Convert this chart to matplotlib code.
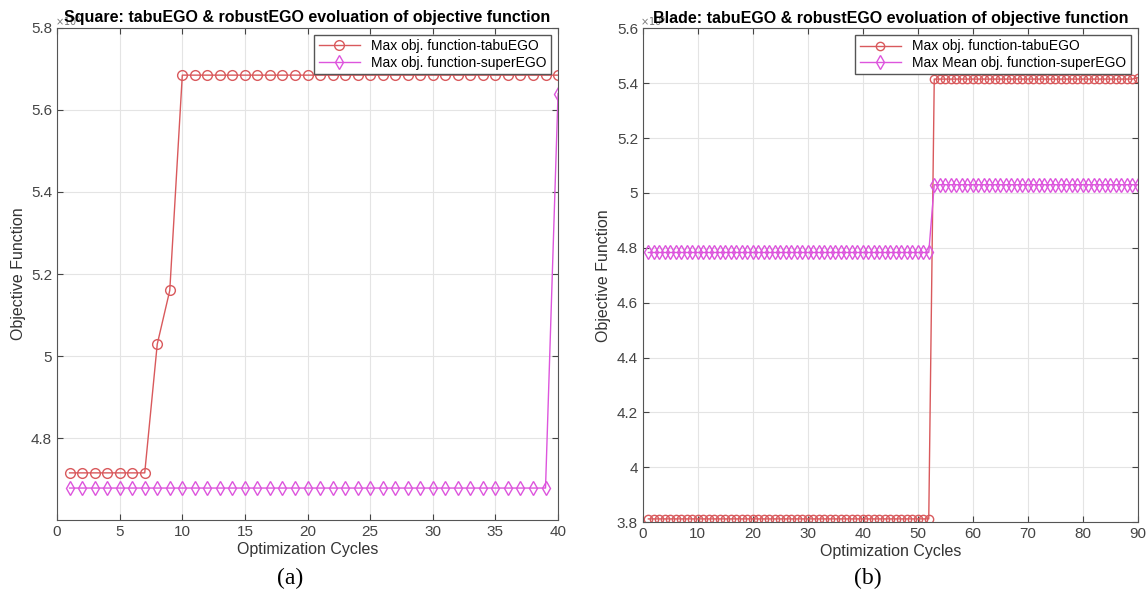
import matplotlib.pyplot as plt
import numpy as np

plt.rcParams['font.family'] = ['Liberation Sans', 'DejaVu Sans']

# (a) Square - values in units of 1e5
cyc_a = np.arange(1, 41)
tabu_a = [4.715]*7 + [5.029, 5.16] + [5.685]*31
super_a = [4.678]*39 + [5.64]

# (b) Blade
cyc_b = np.arange(1, 91)
tabu_b = [3.812]*52 + [5.415]*37 + [5.42]
super_b = [4.783]*52 + [5.03]*38

red = '#d9595c'
mag = '#dd55dd'
grey = '#444444'

fig = plt.figure(figsize=(11.48, 6.03), dpi=100)
ax1 = fig.add_axes([0.0497, 0.1376, 0.4364, 0.816])
ax2 = fig.add_axes([0.560, 0.134, 0.431, 0.819])

def style(ax):
    ax.grid(True, color='#e4e4e4', linewidth=0.8)
    ax.set_axisbelow(True)
    ax.tick_params(direction='in', top=True, right=True, colors=grey,
                   labelsize=11, length=4)
    for s in ax.spines.values():
        s.set_color('#555555')
    ax.set_xlabel("Optimization Cycles", fontsize=11.5, color='#333333', labelpad=2)
    ax.set_ylabel("Objective Function", fontsize=11.5, color='#333333')
    ax.text(-0.005, 1.0, r'$\times10^5$', transform=ax.transAxes, fontsize=7,
            color='#777777', ha='left', va='bottom')

ax1.plot(cyc_a, tabu_a, color=red, marker='o', mfc='none', ms=7, lw=1,
         label="Max obj. function-tabuEGO")
ax1.plot(cyc_a, super_a, color=mag, marker='d', mfc='none', ms=7.5, lw=1,
         label="Max obj. function-superEGO")
ax1.set_xlim(0, 40)
ax1.set_ylim(4.6, 5.8)
ax1.set_xticks(np.arange(0, 41, 5))
ax1.set_yticks([4.8, 5.0, 5.2, 5.4, 5.6, 5.8])
ax1.set_yticklabels(['4.8', '5', '5.2', '5.4', '5.6', '5.8'])
style(ax1)
ax1.set_title("Square: tabuEGO & robustEGO evoluation of objective function",
              fontsize=11.5, fontweight='bold', pad=4)
ax1.legend(loc='upper right', fontsize=10, fancybox=False, edgecolor='#555555',
           framealpha=1, borderpad=0.3, handlelength=3, labelspacing=0.2)

ax2.plot(cyc_b, tabu_b, color=red, marker='o', mfc='none', ms=6, lw=1,
         label="Max obj. function-tabuEGO")
ax2.plot(cyc_b, super_b, color=mag, marker='d', mfc='none', ms=7, lw=1,
         label="Max Mean obj. function-superEGO")
ax2.set_xlim(0, 90)
ax2.set_ylim(3.8, 5.6)
ax2.set_xticks(np.arange(0, 91, 10))
ax2.set_yticks(np.arange(3.8, 5.61, 0.2))
ax2.set_yticklabels(['3.8', '4', '4.2', '4.4', '4.6', '4.8', '5', '5.2', '5.4', '5.6'])
style(ax2)
ax2.set_title("Blade: tabuEGO & robustEGO evoluation of objective function",
              fontsize=11.5, fontweight='bold', pad=4)
ax2.legend(loc='upper right', fontsize=10, fancybox=False, edgecolor='#555555',
           framealpha=1, borderpad=0.3, handlelength=3, labelspacing=0.2)

fig.text(0.253, 0.04, "(a)", fontsize=17, family='Liberation Serif', ha='center', va='center')
fig.text(0.756, 0.04, "(b)", fontsize=17, family='Liberation Serif', ha='center', va='center')

plt.savefig("out.png", dpi=100)
